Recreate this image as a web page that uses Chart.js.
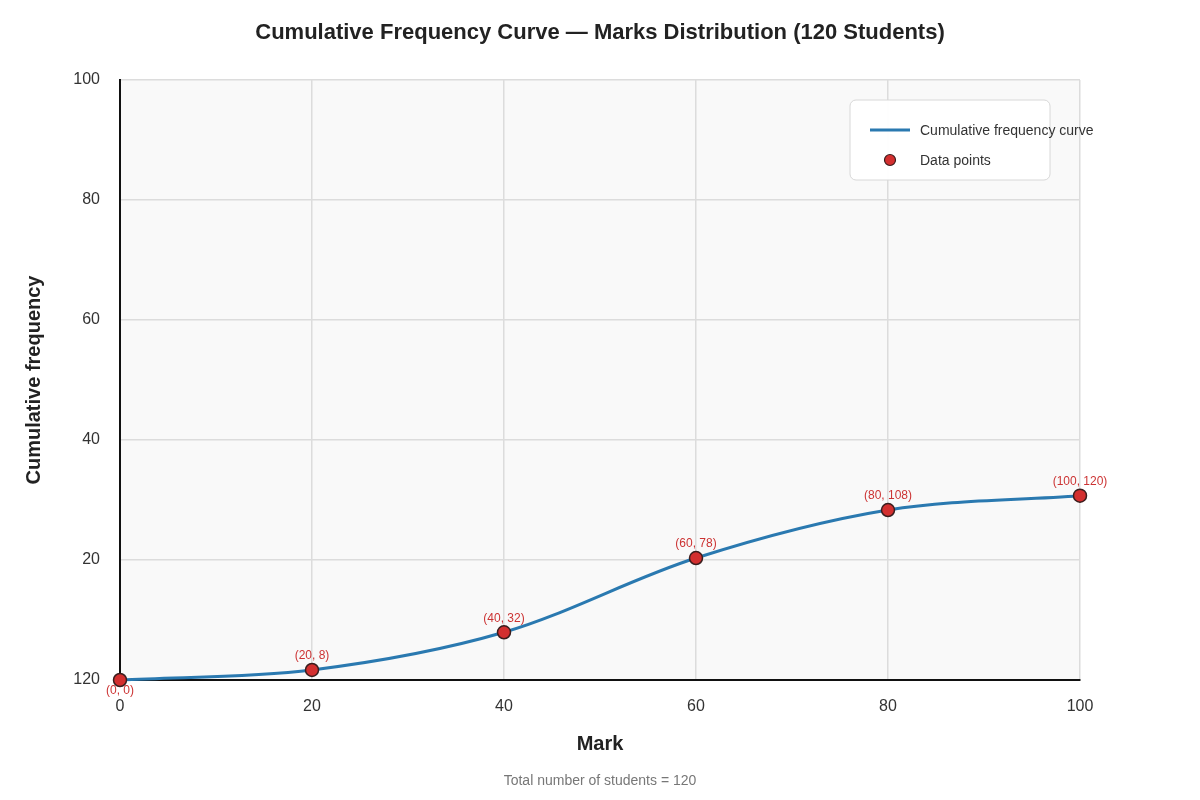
<!DOCTYPE html>
<html><head><meta charset="utf-8">
<script src="https://cdn.jsdelivr.net/npm/chart.js@4.4.1/dist/chart.umd.min.js"></script>
<style>html,body{margin:0;padding:0;background:#fff}#wrap{width:1200px;height:800px}</style>
</head><body><div id="wrap"><canvas id="c" width="1200" height="800"></canvas></div>
<script>
const marks = [0, 20, 40, 60, 80, 100];
const cumFreq = [0, 8, 32, 78, 108, 120];
const plottedY = [0, 1.67, 7.95, 20.33, 28.33, 30.72];
const yTickValues = [0, 20, 40, 60, 80, 100];
const yTickLabels = ['120', '20', '40', '60', '80', '100'];
const xTickLabels = ['0', '20', '40', '60', '80', '100'];
const titleText = 'Cumulative Frequency Curve — Marks Distribution (120 Students)';
const xTitle = 'Mark';
const yTitle = 'Cumulative frequency';
const footer = 'Total number of students = 120';
const curveLabel = 'Cumulative frequency curve';
const pointsLabel = 'Data points';

const FONT = "'Liberation Sans', Arial, sans-serif";
const pts = marks.map((m, i) => ({x: m, y: plottedY[i]}));

const deco = {
  id: 'deco',
  beforeDraw(chart) {
    const {ctx, chartArea: a} = chart;
    ctx.save();
    ctx.fillStyle = '#f9f9f9';
    ctx.fillRect(a.left, a.top, a.right - a.left, a.bottom - a.top);
    ctx.restore();
  },
  afterDraw(chart) {
    const {ctx} = chart;
    ctx.save();
    ctx.fillStyle = '#222';
    ctx.textAlign = 'center'; ctx.textBaseline = 'middle';
    ctx.font = 'bold 22px ' + FONT;
    ctx.fillText(titleText, 600, 33);
    ctx.font = 'bold 20px ' + FONT;
    ctx.fillText(xTitle, 600, 744);
    ctx.save();
    ctx.translate(34, 380); ctx.rotate(-Math.PI / 2);
    ctx.fillText(yTitle, 0, 0);
    ctx.restore();
    ctx.font = '14px ' + FONT; ctx.fillStyle = '#777';
    ctx.fillText(footer, 600, 781);
    const meta = chart.getDatasetMeta(1);
    ctx.font = '12px ' + FONT; ctx.fillStyle = '#cc3333';
    meta.data.forEach((el, i) => {
      const t = '(' + marks[i] + ', ' + cumFreq[i] + ')';
      const dy = cumFreq[i] === 0 ? 11 : -14;
      ctx.fillText(t, el.x, el.y + dy);
    });
    const lx = 850, ly = 100, lw = 200, lh = 80, r = 6;
    ctx.beginPath();
    ctx.moveTo(lx + r, ly); ctx.arcTo(lx + lw, ly, lx + lw, ly + lh, r);
    ctx.arcTo(lx + lw, ly + lh, lx, ly + lh, r); ctx.arcTo(lx, ly + lh, lx, ly, r);
    ctx.arcTo(lx, ly, lx + lw, ly, r); ctx.closePath();
    ctx.fillStyle = 'rgba(255,255,255,0.95)'; ctx.fill();
    ctx.strokeStyle = '#d8d8d8'; ctx.lineWidth = 1; ctx.stroke();
    const ds = chart.data.datasets;
    ctx.strokeStyle = ds[0].borderColor; ctx.lineWidth = 3;
    ctx.beginPath(); ctx.moveTo(870, 130); ctx.lineTo(910, 130); ctx.stroke();
    ctx.beginPath(); ctx.arc(890, 160, 5.5, 0, Math.PI * 2);
    ctx.fillStyle = ds[1].backgroundColor; ctx.fill();
    ctx.strokeStyle = ds[1].borderColor; ctx.lineWidth = 1.2; ctx.stroke();
    ctx.fillStyle = '#333'; ctx.font = '14px ' + FONT; ctx.textAlign = 'left';
    ctx.fillText(ds[0].label, 920, 131);
    ctx.fillText(ds[1].label, 920, 161);
    ctx.restore();
  }
};

new Chart(document.getElementById('c'), {
  type: 'scatter',
  data: {
    datasets: [
      {label: curveLabel, data: pts, showLine: true, borderColor: '#2a79b0', borderWidth: 3,
       pointRadius: 0, cubicInterpolationMode: 'monotone', fill: false, order: 2, clip: false},
      {label: pointsLabel, data: pts, showLine: false, backgroundColor: '#d32f2f',
       borderColor: '#3a1d1d', borderWidth: 1.5, pointRadius: 6.5, order: 1, clip: false}
    ]
  },
  plugins: [deco],
  options: {
    responsive: false, animation: false, devicePixelRatio: 1,
    layout: {padding: {top: 80, right: 120, left: 0, bottom: 0}},
    plugins: {legend: {display: false}, tooltip: {enabled: false}, title: {display: false}},
    scales: {
      x: {type: 'linear', min: 0, max: 100,
          afterBuildTicks(s) { s.ticks = marks.map(v => ({value: v})); },
          afterFit(s) { s.height = 120; },
          ticks: {padding: 17, color: '#333', font: {size: 16, family: FONT},
                  callback: (v) => xTickLabels[marks.indexOf(v)]},
          grid: {color: '#dcdcdc', lineWidth: 1.5, drawTicks: false},
          border: {color: '#111', width: 2}},
      y: {type: 'linear', min: 0, max: 100,
          afterBuildTicks(s) { s.ticks = yTickValues.map(v => ({value: v})); },
          afterFit(s) { s.width = 120; },
          ticks: {padding: 20, color: '#333', font: {size: 16, family: FONT},
                  callback: (v) => yTickLabels[yTickValues.indexOf(v)]},
          grid: {color: '#dcdcdc', lineWidth: 1.5, drawTicks: false},
          border: {color: '#111', width: 2}}
    }
  }
});
</script></body></html>
